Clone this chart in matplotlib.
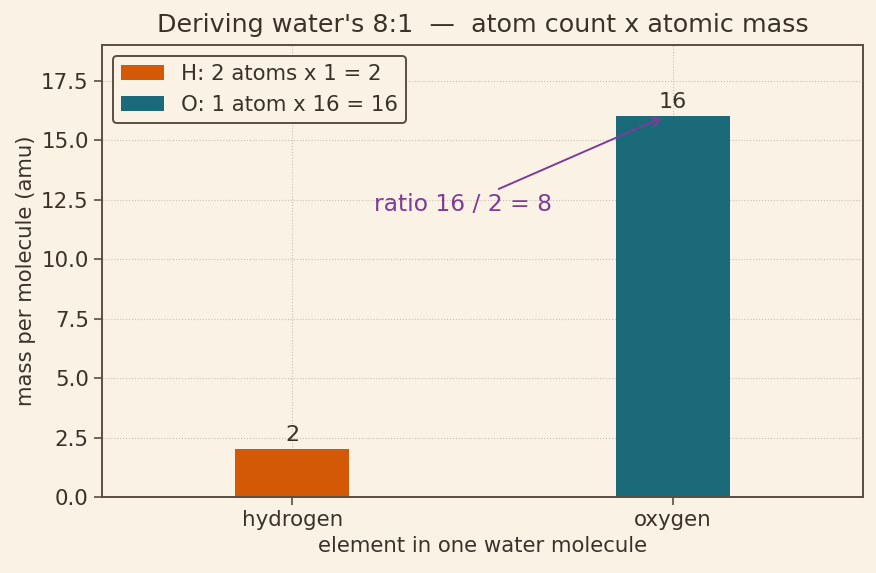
import matplotlib
matplotlib.use('Agg')
import matplotlib.pyplot as plt

# data
elements = ['hydrogen', 'oxygen']
masses = [2, 16]
legend_labels = ['H: 2 atoms x 1 = 2', 'O: 1 atom x 16 = 16']
bar_colors = ['#D35400', '#136677']

BG = '#FAF2E4'
TEXT = '#3B3129'
SPINE = '#5A4E42'
PURPLE = '#7D3C98'

plt.rcParams['font.family'] = 'DejaVu Sans'
plt.rcParams['text.color'] = TEXT
plt.rcParams['axes.labelcolor'] = TEXT
plt.rcParams['xtick.color'] = SPINE
plt.rcParams['ytick.color'] = SPINE
plt.rcParams['xtick.labelcolor'] = TEXT
plt.rcParams['ytick.labelcolor'] = TEXT
plt.rcParams['xtick.major.size'] = 6
plt.rcParams['ytick.major.size'] = 6
plt.rcParams['xtick.major.width'] = 1.2
plt.rcParams['ytick.major.width'] = 1.2

fig, ax = plt.subplots(figsize=(8.76, 5.73), dpi=100)
fig.patch.set_facecolor(BG)
ax.set_facecolor(BG)

x = range(len(elements))
bars = ax.bar(x, masses, width=0.3, color=bar_colors, alpha=0.97,
              label=legend_labels, zorder=2)
ax.bar_label(bars, labels=[str(m) for m in masses], padding=3,
             fontsize=16, color=TEXT)

ax.set_xticks(list(x))
ax.set_xticklabels(elements, fontsize=15.4)
ax.tick_params(axis='y', labelsize=15.4)
ax.set_xlim(-0.5, 1.5)
ax.set_ylim(0, 19)

ax.grid(True, linestyle=':', color='#C9C0B2', linewidth=0.8, zorder=0)
ax.set_axisbelow(True)
for s in ax.spines.values():
    s.set_color(SPINE)
    s.set_linewidth(1.4)

ax.set_xlabel('element in one water molecule', fontsize=15.3)
ax.set_ylabel('mass per molecule (amu)', fontsize=15.3)
ax.set_title("Deriving water's 8:1  \u2014  atom count x atomic mass",
             fontsize=18.3, color=TEXT, pad=9)

ax.annotate('ratio 16 / 2 = 8', xy=(0.98, 16), xytext=(0.45, 12.3),
            ha='center', va='center', fontsize=16.8, color=PURPLE,
            arrowprops=dict(arrowstyle='->', color=PURPLE, lw=1.4))

leg = ax.legend(loc='upper left', fontsize=15.3, facecolor=BG,
                edgecolor=SPINE, framealpha=1, handlelength=2.0,
                borderaxespad=0.5)
leg.get_frame().set_linewidth(1.4)

fig.subplots_adjust(left=0.1164, right=0.985, top=0.9215, bottom=0.1326)
fig.savefig('out.png', dpi=100, facecolor=BG)
